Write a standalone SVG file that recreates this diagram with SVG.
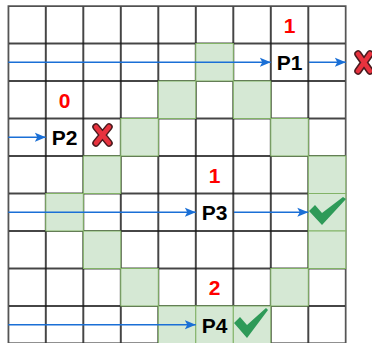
<svg xmlns="http://www.w3.org/2000/svg" width="372" height="343" viewBox="0 0 372 343">
<style>
.g{fill:#d5e8d4;stroke:#82b366;stroke-width:1}
.lbl{font-family:"Liberation Sans",Arial,sans-serif;font-weight:bold;font-size:21px;text-anchor:middle;fill:#000}
.num{font-family:"Liberation Sans",Arial,sans-serif;font-weight:bold;font-size:21px;text-anchor:middle;fill:#ff0000}
.arr{stroke:#1a6fd6;stroke-width:1.6;fill:none;marker-end:url(#ah)}
.xo{stroke:#4a1a1e;stroke-width:7.5;stroke-linecap:round;fill:none}
.xi{stroke:#e8323e;stroke-width:4.5;stroke-linecap:round;fill:none}
.ck{fill:#2e9a58}
</style>
<defs>
<marker id="ah" markerUnits="userSpaceOnUse" markerWidth="12" markerHeight="10" refX="11" refY="5" orient="auto">
<path d="M0,0.5 L11,5 L0,9.5 L2.5,5 Z" fill="#1a6fd6"/>
</marker>
<pattern id="grid" x="8.3" y="6" width="37.5" height="37.5" patternUnits="userSpaceOnUse">
<rect x="0" y="0" width="37.5" height="37.5" fill="#ffffff" stroke="#1a1a1a" stroke-width="1.6"/>
</pattern>
</defs>
<rect width="372" height="343" fill="#ffffff"/>
<g id="grid-board">
<rect x="8.3" y="6" width="337.5" height="337.5" fill="url(#grid)"/>
<rect x="8.3" y="6" width="337.5" height="337.5" fill="none" stroke="#555" stroke-width="1.5"/>
</g>
<g id="green-cells">
<rect class="g" x="195.8" y="43.5" width="37.5" height="37.5"/>
<rect class="g" x="158.3" y="81" width="37.5" height="37.5"/>
<rect class="g" x="233.3" y="81" width="37.5" height="37.5"/>
<rect class="g" x="120.8" y="118.5" width="37.5" height="37.5"/>
<rect class="g" x="270.8" y="118.5" width="37.5" height="37.5"/>
<rect class="g" x="83.3" y="156" width="37.5" height="37.5"/>
<rect class="g" x="308.3" y="156" width="37.5" height="37.5"/>
<rect class="g" x="45.8" y="193.5" width="37.5" height="37.5"/>
<rect class="g" x="308.3" y="193.5" width="37.5" height="37.5"/>
<rect class="g" x="83.3" y="231" width="37.5" height="37.5"/>
<rect class="g" x="308.3" y="231" width="37.5" height="37.5"/>
<rect class="g" x="120.8" y="268.5" width="37.5" height="37.5"/>
<rect class="g" x="270.8" y="268.5" width="37.5" height="37.5"/>
<rect class="g" x="158.3" y="306" width="37.5" height="37.5"/>
<rect class="g" x="195.8" y="306" width="37.5" height="37.5"/>
<rect class="g" x="233.3" y="306" width="37.5" height="37.5"/>
</g>
<g id="connectors">
<line class="arr" x1="8.3" y1="62.25" x2="270.8" y2="62.25"/>
<line class="arr" x1="309" y1="62.25" x2="345.8" y2="62.25"/>
<line class="arr" x1="8.3" y1="137.25" x2="45.8" y2="137.25"/>
<line class="arr" x1="8.3" y1="212.25" x2="195.8" y2="212.25"/>
<line class="arr" x1="234" y1="212.25" x2="308.3" y2="212.25"/>
<line class="arr" x1="8.3" y1="324.75" x2="195.8" y2="324.75"/>
</g>
<g id="P1">
<text class="num" x="289.5" y="32.5">1</text>
<text class="lbl" x="289.5" y="70">P1</text>
</g>
<g id="P2">
<text class="num" x="64.5" y="107.5">0</text>
<text class="lbl" x="64.5" y="145">P2</text>
</g>
<g id="P3">
<text class="num" x="214.5" y="182.5">1</text>
<text class="lbl" x="214.5" y="220">P3</text>
</g>
<g id="P4">
<text class="num" x="214.5" y="295">2</text>
<text class="lbl" x="214.5" y="332.5">P4</text>
</g>
<g id="fail-P1">
<path class="xo" d="M358,54 L370,71 M370,54 L358,71"/>
<path class="xi" d="M358,54 L370,71 M370,54 L358,71"/>
</g>
<g id="fail-P2">
<path class="xo" d="M96,127 L109,143 M109,127 L96,143"/>
<path class="xi" d="M96,127 L109,143 M109,127 L96,143"/>
</g>
<g id="ok-P3">
<polygon class="ck" points="309,211 315,205 322,213 343,197 346,199 322,225"/>
</g>
<g id="ok-P4">
<polygon class="ck" points="234,323 240,317 247,325 266,308 268,310 247,338"/>
</g>
</svg>
